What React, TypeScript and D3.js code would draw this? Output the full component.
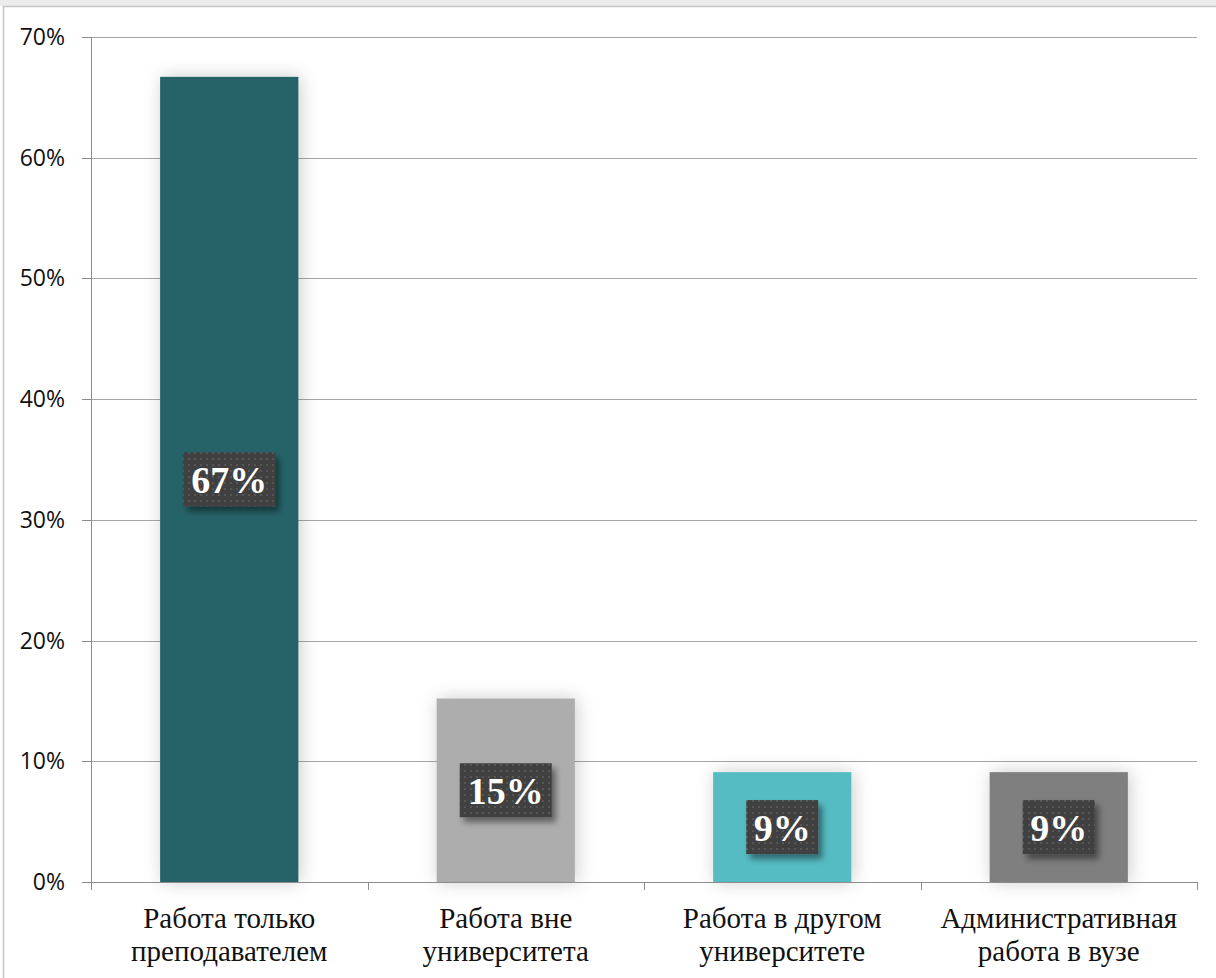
import React from "react";
import * as d3 from "d3";

const categories: string[][] = [
  ["Работа только", "преподавателем"],
  ["Работа вне", "университета"],
  ["Работа в другом", "университете"],
  ["Административная", "работа в вузе"],
];
const values: number[] = [0.667, 0.152, 0.091, 0.091];
const valueLabels: string[] = ["67%", "15%", "9%", "9%"];
const barColors: string[] = ["#276468", "#adadad", "#56bcc4", "#7f7f7f"];
const yTicks: number[] = [0, 0.1, 0.2, 0.3, 0.4, 0.5, 0.6, 0.7];

const W = 1216;
const H = 978;
const left = 91;
const right = 1197;
const top = 37;
const bottom = 882;

export default function App() {
  const keys = categories.map((_, i) => String(i));
  const x = d3.scaleBand<string>().domain(keys).range([left, right]).paddingInner(0.5).paddingOuter(0.25);
  const y = d3.scaleLinear().domain([0, 0.7]).range([bottom, top]);
  const step = x.step();
  const fmt = d3.format(".0%");
  const boundaries = d3.range(categories.length + 1).map((i) => left + i * step);

  return (
    <svg width={W} height={H} style={{ position: "absolute", left: 0, top: 0, background: "#fff" }}>
      <defs>
        <filter id="barShadow" x="-30%" y="-30%" width="160%" height="160%">
          <feDropShadow dx="2" dy="0" stdDeviation="9" floodColor="#000" floodOpacity="0.2" />
        </filter>
        <filter id="boxShadow" x="-30%" y="-30%" width="160%" height="160%">
          <feDropShadow dx="4" dy="5" stdDeviation="3" floodColor="#000" floodOpacity="0.45" />
        </filter>
        <pattern id="dots" width="6" height="6" patternUnits="userSpaceOnUse">
          <rect width="6" height="6" fill="#404040" />
          <rect x="2" y="2" width="2" height="2" fill="#575757" />
        </pattern>
      </defs>
      <rect x={0} y={0} width={W} height={6} fill="#ececec" />
      <rect x={3.5} y={6.5} width={W} height={H} fill="#fff" stroke="#c6c6c6" strokeWidth={1.5} />

      {yTicks.map((t) => (
        <g key={t}>
          {t > 0 && <line x1={left} x2={right} y1={Math.round(y(t)) + 0.5} y2={Math.round(y(t)) + 0.5} stroke="#a6a6a6" strokeWidth={1} />}
          <line x1={82} x2={left} y1={Math.round(y(t)) + 0.5} y2={Math.round(y(t)) + 0.5} stroke="#8c8c8c" strokeWidth={1} />
          <text x={65} y={y(t)} dy="0.35em" textAnchor="end" fontFamily="'Open Sans', sans-serif" fontSize={23} fill="#111">
            {fmt(t)}
          </text>
        </g>
      ))}

      {values.map((v, i) => (
        <rect key={"b" + i} x={x(String(i))} y={y(v)} width={x.bandwidth()} height={bottom - y(v)} fill={barColors[i]} filter="url(#barShadow)" />
      ))}

      <line x1={left + 0.5} x2={left + 0.5} y1={top} y2={bottom + 8} stroke="#8c8c8c" strokeWidth={1} />
      <line x1={left} x2={right} y1={bottom + 0.5} y2={bottom + 0.5} stroke="#8c8c8c" strokeWidth={1} />
      {boundaries.map((b, i) => (
        <line key={"t" + i} x1={Math.round(b) + 0.5} x2={Math.round(b) + 0.5} y1={bottom} y2={bottom + 8} stroke="#8c8c8c" strokeWidth={1} />
      ))}

      {values.map((v, i) => {
        const cx = (x(String(i)) as number) + x.bandwidth() / 2;
        const cy = (y(v) + bottom) / 2;
        const bw = valueLabels[i].length === 3 ? 92 : 72;
        const bh = 54;
        return (
          <g key={"l" + i}>
            <rect x={cx - bw / 2} y={cy - bh / 2} width={bw} height={bh} fill="url(#dots)" filter="url(#boxShadow)" />
            <text x={cx} y={cy} dy="0.36em" textAnchor="middle" fontFamily="'Liberation Serif', 'Times New Roman', serif" fontWeight="bold" fontSize={38} fill="#fff">
              {valueLabels[i]}
            </text>
          </g>
        );
      })}

      {categories.map((lines, i) => {
        const cx = (x(String(i)) as number) + x.bandwidth() / 2;
        return (
          <text key={"c" + i} textAnchor="middle" fontFamily="'Liberation Serif', 'Times New Roman', serif" fontSize={29} fill="#111">
            {lines.map((ln, j) => (
              <tspan key={j} x={cx} y={928 + j * 33}>
                {ln}
              </tspan>
            ))}
          </text>
        );
      })}
    </svg>
  );
}
